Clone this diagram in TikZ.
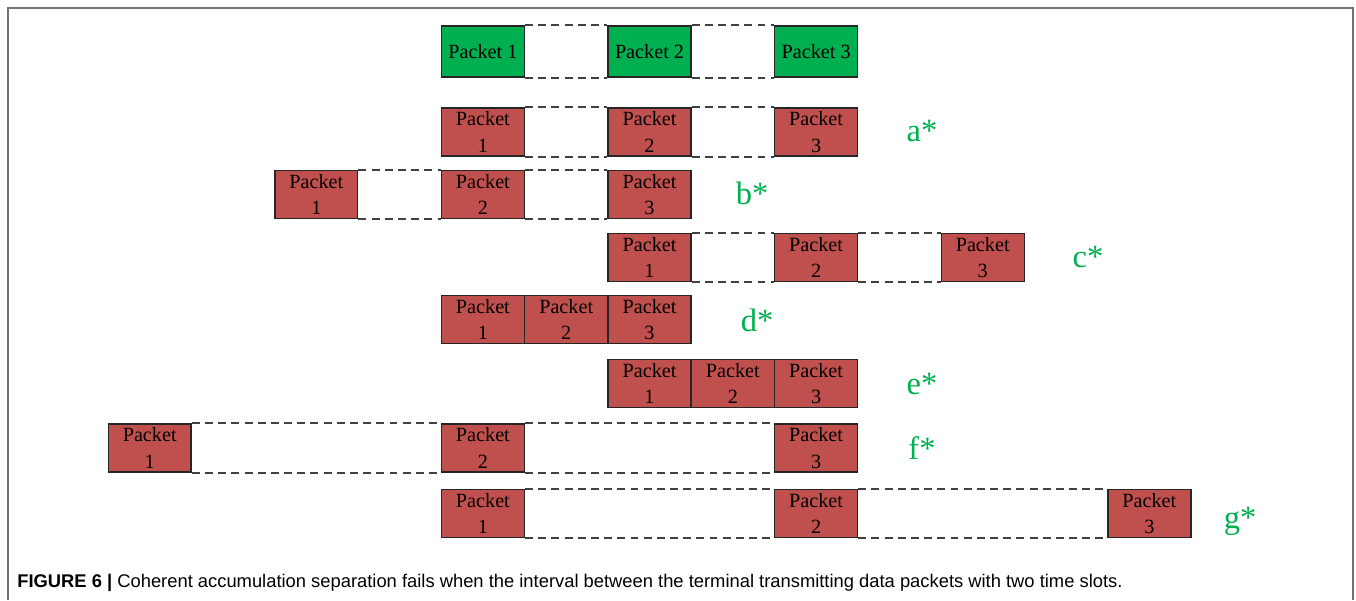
\documentclass[tikz,border=0pt]{standalone}
\usepackage{fontspec}
\setmainfont{Liberation Serif}
\newfontfamily\capfont{Liberation Sans}
\usepackage{tikz}
\usetikzlibrary{positioning}
\definecolor{pktgreen}{RGB}{0,176,80}
\definecolor{pktred}{RGB}{192,80,77}
\definecolor{lblgreen}{RGB}{0,176,80}
\tikzstyle{pkt} = [draw=black!85, line width=0.8pt, inner sep=0pt, minimum width=1.66cm, align=center, font=\fontsize{11.5}{15}\selectfont]
\tikzstyle{okpkt} = [pkt, fill=pktgreen, minimum height=1.02cm]
\tikzstyle{badpkt} = [pkt, fill=pktred, minimum height=0.96cm]
\tikzstyle{gap} = [draw=black!75, dash pattern=on 4.5pt off 3pt, line width=1pt]
\tikzstyle{tag} = [text=lblgreen, font=\fontsize{18.5}{20}\selectfont]

\begin{document}
\begin{tikzpicture}[x=0.02cm,y=-0.02cm]
\useasboundingbox (0,0) rectangle (1356,600);
\draw[black!55, line width=0.9pt] (8,600) -- (8,8) -- (1353,8) -- (1353,600);

% reference row
\node[okpkt] (o1) at (482.9,51.5) {Packet 1};
\node[okpkt] (o2) at (649.5,51.5) {Packet 2};
\node[okpkt] (o3) at (816.1,51.5) {Packet 3};

% a*
\node[badpkt] (a1) at (482.9,132) {Packet\\1};
\node[badpkt] (a2) at (649.5,132) {Packet\\2};
\node[badpkt] (a3) at (816.1,132) {Packet\\3};
\node[tag] (ta) at (922,131) {a*};

% b*
\node[badpkt] (b1) at (316.3,194.5) {Packet\\1};
\node[badpkt] (b2) at (482.9,194.5) {Packet\\2};
\node[badpkt] (b3) at (649.5,194.5) {Packet\\3};
\node[tag] (tb) at (752,193) {b*};

% c*
\node[badpkt] (c1) at (649.5,257.5) {Packet\\1};
\node[badpkt] (c2) at (816.1,257.5) {Packet\\2};
\node[badpkt] (c3) at (982.7,257.5) {Packet\\3};
\node[tag] (tc) at (1088,257) {c*};

% d*
\node[badpkt] (d1) at (482.9,319.5) {Packet\\1};
\node[badpkt] (d2) at (566.2,319.5) {Packet\\2};
\node[badpkt] (d3) at (649.5,319.5) {Packet\\3};
\node[tag] (td) at (757,320) {d*};

% e*
\node[badpkt] (e1) at (649.5,383.5) {Packet\\1};
\node[badpkt] (e2) at (732.8,383.5) {Packet\\2};
\node[badpkt] (e3) at (816.1,383.5) {Packet\\3};
\node[tag] (te) at (922,384) {e*};

% f*
\node[badpkt] (f1) at (149.7,448) {Packet\\1};
\node[badpkt] (f2) at (482.9,448) {Packet\\2};
\node[badpkt] (f3) at (816.1,448) {Packet\\3};
\node[tag] (tf) at (922,448) {f*};

% g*
\node[badpkt] (g1) at (482.9,513.5) {Packet\\1};
\node[badpkt] (g2) at (816.1,513.5) {Packet\\2};
\node[badpkt] (g3) at (1149.3,513.5) {Packet\\3};
\node[tag] (tg) at (1240,521) {g*};

% dashed gaps between packets
\path
(o1.north east) edge [gap] (o2.north west)
(o1.south east) edge [gap] (o2.south west)
(o2.north east) edge [gap] (o3.north west)
(o2.south east) edge [gap] (o3.south west)
(a1.north east) edge [gap] (a2.north west)
(a1.south east) edge [gap] (a2.south west)
(a2.north east) edge [gap] (a3.north west)
(a2.south east) edge [gap] (a3.south west)
(b1.north east) edge [gap] (b2.north west)
(b1.south east) edge [gap] (b2.south west)
(b2.north east) edge [gap] (b3.north west)
(b2.south east) edge [gap] (b3.south west)
(c1.north east) edge [gap] (c2.north west)
(c1.south east) edge [gap] (c2.south west)
(c2.north east) edge [gap] (c3.north west)
(c2.south east) edge [gap] (c3.south west)
(f1.north east) edge [gap] (f2.north west)
(f1.south east) edge [gap] (f2.south west)
(f2.north east) edge [gap] (f3.north west)
(f2.south east) edge [gap] (f3.south west)
(g1.north east) edge [gap] (g2.north west)
(g1.south east) edge [gap] (g2.south west)
(g2.north east) edge [gap] (g3.north west)
(g2.south east) edge [gap] (g3.south west);

\node[anchor=west, inner sep=0pt, font=\capfont\fontsize{10.45}{12}\selectfont] (cap) at (17,583) {\textbf{FIGURE 6 |} Coherent accumulation separation fails when the interval between the terminal transmitting data packets with two time slots.};
\end{tikzpicture}
\end{document}
